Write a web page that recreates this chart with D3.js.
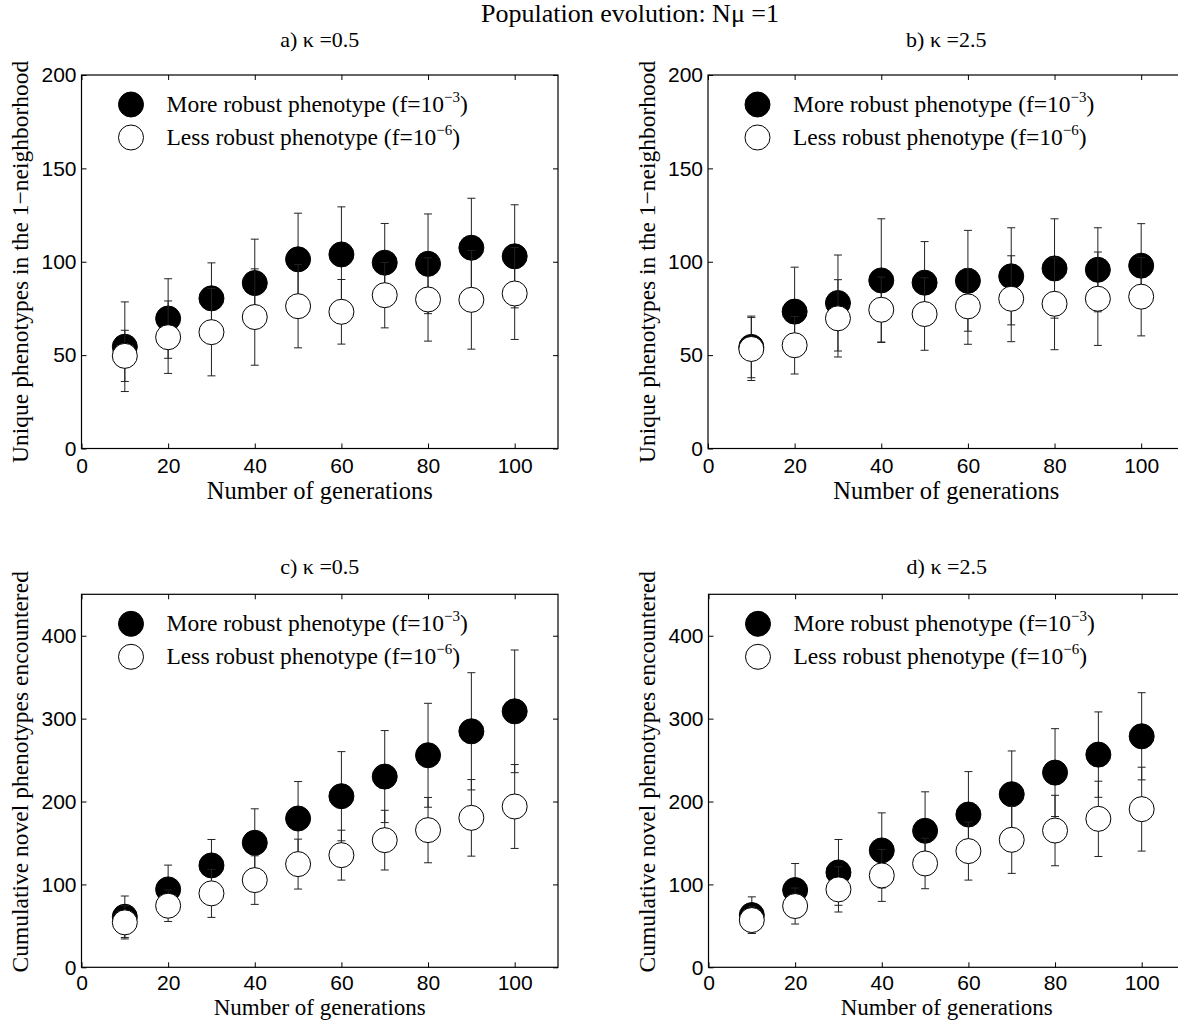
<!DOCTYPE html>
<html>
<head>
<meta charset="utf-8">
<script src="https://cdn.jsdelivr.net/npm/d3@7"></script>
<style>
  body { margin: 0; background: #fff; }
  svg { display: block; }
</style>
</head>
<body>
<div class="figure"></div>
<script>
// data
const generations = [10, 20, 30, 40, 50, 60, 70, 80, 90, 100]

// a) kappa = 0.5, unique phenotypes in the 1-neighborhood
const moreA = [54.5, 69.6, 80.4, 88.6, 101.3, 103.9, 99.5, 98.9, 107.5, 102.9]
const moreAErr = [24, 21.3, 19, 23.5, 24.7, 25.5, 21, 26.7, 26.5, 27.6]
const lessA = [49.6, 59.6, 62.3, 70.4, 76.2, 73.2, 82.1, 79.8, 79.6, 83]
const lessAErr = [13.7, 19.4, 23.4, 25.8, 22.3, 17.3, 17.5, 22.3, 26.4, 24.6]

// b) kappa = 2.5
const moreB = [54.4, 73.3, 77.9, 90, 88.8, 89.8, 92.2, 96.4, 95.7, 97.9]
const moreBErr = [16.5, 23.8, 25.7, 33, 22, 27, 26, 26.6, 22.5, 22.5]
const lessB = [53.3, 55.3, 69.7, 74.3, 72, 76.1, 80.2, 77.5, 80.2, 81.3]
const lessBErr = [16.9, 15.4, 20.7, 17.5, 19.4, 20.3, 23, 24.6, 25, 21]

// c) kappa = 0.5, cumulative novel phenotypes
const moreC = [61, 94, 122.9, 150.2, 179.5, 206.4, 230.1, 255.8, 284.7, 308.8]
const moreCErr = [25, 29.3, 31.3, 41, 44.6, 53.8, 55.5, 62.7, 70.7, 74]
const lessC = [54.2, 74.3, 89.2, 105.2, 124.5, 135.3, 153.4, 165.5, 180.3, 194]
const lessCErr = [20, 19, 29, 29.3, 30.1, 30.1, 36, 39.4, 46.2, 50.6]

// d) kappa = 2.5
const moreD = [63, 93.2, 114.5, 141, 164.7, 184.3, 208.8, 234.9, 256.6, 278.7]
const moreDErr = [22, 32, 39.7, 45.3, 47, 51.8, 52.2, 53, 51.5, 52.6]
const lessD = [57, 73.9, 94, 110.8, 125.3, 140.2, 153.8, 165, 179.1, 190.8]
const lessDErr = [16, 21.7, 27.3, 31.3, 30.5, 35, 40.5, 42.5, 45.4, 50.6]

const xTicks = [0, 20, 40, 60, 80, 100]
const yTicksUnique = [0, 50, 100, 150, 200]
const yTicksCumulative = [0, 100, 200, 300, 400]

const figTitle = 'Population evolution: Nμ =1'
const panelTitles = ['a) κ =0.5', 'b) κ =2.5', 'c) κ =0.5', 'd) κ =2.5']
const yLabels = ['Unique phenotypes in the 1−neighborhood', 'Cumulative novel phenotypes encountered']
const xLabel = 'Number of generations'
const legendLabels = [
  ['More robust phenotype (f=10', '−3', ')'],
  ['Less robust phenotype (f=10', '−6', ')'],
]

const width = 1178
const height = 1020
const serif = '"Liberation Serif", "Times New Roman", serif'
const sans = '"Liberation Sans", Arial, sans-serif'

const svg = d3
  .select('.figure')
  .append('svg')
  .attr('width', width)
  .attr('height', height)

svg
  .append('text')
  .attr('x', 630)
  .attr('y', 22)
  .attr('text-anchor', 'middle')
  .attr('font-family', serif)
  .attr('font-size', 26)
  .text(figTitle)

const zip = (means, errs) => generations.map((g, i) => ({ g, m: means[i], e: errs[i] }))

// the bottom row sits against the page edge, so its x label is set a little tighter
const topRow = { top: 75, bottom: 448.5, titleGap: 28, labelShift: 0, tickPad: 10, xlabelGap: 50, xlabelSize: 24.5, yMax: 200, yTicks: yTicksUnique, ylabel: yLabels[0] }
const bottomRow = { top: 594.3, bottom: 967.3, titleGap: 20, labelShift: -9, tickPad: 8, xlabelGap: 47.7, xlabelSize: 23, yMax: 450, yTicks: yTicksCumulative, ylabel: yLabels[1] }

const panels = [
  { ...topRow, left: 81.5, title: panelTitles[0], more: zip(moreA, moreAErr), less: zip(lessA, lessAErr) },
  { ...topRow, left: 708, title: panelTitles[1], more: zip(moreB, moreBErr), less: zip(lessB, lessBErr) },
  { ...bottomRow, left: 81.5, title: panelTitles[2], more: zip(moreC, moreCErr), less: zip(lessC, lessCErr) },
  { ...bottomRow, left: 708.5, title: panelTitles[3], more: zip(moreD, moreDErr), less: zip(lessD, lessDErr) },
]

const plotWidth = 476.5
const r = 12.5

const drawPanel = p => {
  const x = d3.scaleLinear().domain([0, 110]).range([p.left, p.left + plotWidth])
  const y = d3.scaleLinear().domain([0, p.yMax]).range([p.bottom, p.top])
  const g = svg.append('g')
  const cx = (p.left + p.left + plotWidth) / 2

  g.append('rect')
    .attr('x', x(0))
    .attr('y', y(p.yMax))
    .attr('width', x(110) - x(0))
    .attr('height', y(0) - y(p.yMax))
    .attr('fill', 'none')
    .attr('stroke', '#000')
    .attr('stroke-width', 1.2)

  const noDomain = sel => sel.select('.domain').remove()

  g.append('g')
    .attr('transform', `translate(0,${y(0)})`)
    .call(d3.axisBottom(x).tickValues(xTicks).tickSize(-5).tickPadding(p.tickPad))
    .call(noDomain)
  g.append('g')
    .attr('transform', `translate(0,${y(p.yMax)})`)
    .call(d3.axisTop(x).tickValues(xTicks).tickSize(-5).tickFormat(''))
    .call(noDomain)
  g.append('g')
    .attr('transform', `translate(${x(0)},0)`)
    .call(d3.axisLeft(y).tickValues(p.yTicks).tickSize(-5).tickPadding(5))
    .call(noDomain)
  g.append('g')
    .attr('transform', `translate(${x(110)},0)`)
    .call(d3.axisRight(y).tickValues(p.yTicks).tickSize(-5).tickFormat(''))
    .call(noDomain)

  g.selectAll('.tick line').attr('stroke', '#000')
  g.selectAll('.tick text')
    .attr('font-family', sans)
    .attr('font-size', 21)
    .attr('fill', '#000')

  g.append('text')
    .attr('x', cx)
    .attr('y', p.top - p.titleGap)
    .attr('text-anchor', 'middle')
    .attr('font-family', serif)
    .attr('font-size', 22)
    .text(p.title)

  g.append('text')
    .attr('x', cx)
    .attr('y', p.bottom + p.xlabelGap)
    .attr('text-anchor', 'middle')
    .attr('font-family', serif)
    .attr('font-size', p.xlabelSize)
    .text(xLabel)

  g.append('text')
    .attr('transform', `translate(${p.left - 53.5},${(p.top + p.bottom) / 2 + p.labelShift}) rotate(-90)`)
    .attr('text-anchor', 'middle')
    .attr('font-family', serif)
    .attr('font-size', 23.5)
    .text(p.ylabel)

  const drawSeries = (data, fill) => {
    const s = g.append('g')
    const bars = s.selectAll('g.bar').data(data).enter().append('g').attr('class', 'bar')
    bars
      .append('line')
      .attr('x1', d => x(d.g))
      .attr('x2', d => x(d.g))
      .attr('y1', d => y(d.m - d.e))
      .attr('y2', d => y(d.m + d.e))
    bars
      .append('line')
      .attr('x1', d => x(d.g) - 4)
      .attr('x2', d => x(d.g) + 4)
      .attr('y1', d => y(d.m + d.e))
      .attr('y2', d => y(d.m + d.e))
    bars
      .append('line')
      .attr('x1', d => x(d.g) - 4)
      .attr('x2', d => x(d.g) + 4)
      .attr('y1', d => y(d.m - d.e))
      .attr('y2', d => y(d.m - d.e))
    bars.selectAll('line').attr('stroke', '#222').attr('stroke-width', 1)

    s.selectAll('circle')
      .data(data)
      .enter()
      .append('circle')
      .attr('cx', d => x(d.g))
      .attr('cy', d => y(d.m))
      .attr('r', r)
      .attr('fill', fill)
      .attr('stroke', '#000')
      .attr('stroke-width', 1)
  }

  drawSeries(p.more, '#000')
  drawSeries(p.less, '#fff')

  // legend
  const legend = g.append('g')
  legendLabels.forEach((lab, i) => {
    const ly = p.top + 29.5 + i * 33
    legend
      .append('circle')
      .attr('cx', p.left + 49.5)
      .attr('cy', ly)
      .attr('r', r)
      .attr('fill', i === 0 ? '#000' : '#fff')
      .attr('stroke', '#000')
    const t = legend
      .append('text')
      .attr('x', p.left + 85)
      .attr('y', ly + 7.5)
      .attr('font-family', serif)
      .attr('font-size', 23.5)
    t.append('tspan').text(lab[0])
    t.append('tspan').attr('dy', -10).attr('font-size', 15).text(lab[1])
    t.append('tspan').attr('dy', 10).text(lab[2])
  })
}

panels.forEach(drawPanel)
</script>
</body>
</html>
